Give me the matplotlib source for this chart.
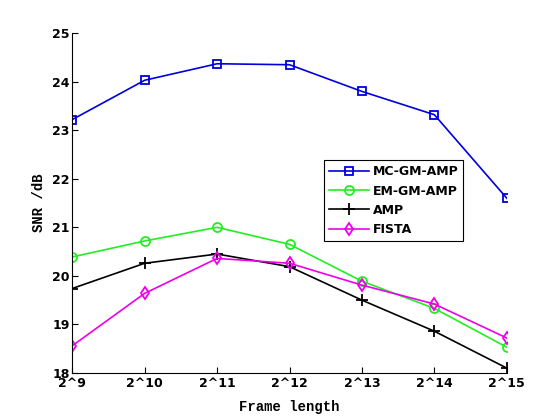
import matplotlib
matplotlib.use('Agg')
import matplotlib.pyplot as plt

# data
x_labels = ['2^9', '2^10', '2^11', '2^12', '2^13', '2^14', '2^15']
mc_gm_amp = [23.22, 24.03, 24.37, 24.35, 23.80, 23.32, 21.60]
em_gm_amp = [20.39, 20.72, 21.00, 20.65, 19.89, 19.33, 18.53]
amp = [19.74, 20.26, 20.45, 20.19, 19.50, 18.86, 18.10]
fista = [18.56, 19.64, 20.36, 20.26, 19.81, 19.42, 18.72]

x = list(range(len(x_labels)))

fig = plt.figure(figsize=(5.6, 4.2), dpi=100)
ax = fig.add_axes([0.129, 0.112, 0.776, 0.809])

ax.plot(x, mc_gm_amp, color='#0000dd', marker='s', markersize=5.5, markerfacecolor='none',
        markeredgewidth=1.3, linewidth=1.2, label='MC-GM-AMP')
ax.plot(x, em_gm_amp, color='#22ee22', marker='o', markersize=6.5, markerfacecolor='none',
        markeredgewidth=1.3, linewidth=1.2, label='EM-GM-AMP')
ax.plot(x, amp, color='black', marker='+', markersize=8, markeredgewidth=1.3,
        linewidth=1.2, label='AMP')
ax.plot(x, fista, color='#ee00ee', marker='d', markersize=6.5, markerfacecolor='none',
        markeredgewidth=1.3, linewidth=1.2, label='FISTA')

ax.set_xlim(0, 6)
ax.set_ylim(18, 25)
ax.set_xticks(x)
ax.set_xticklabels(x_labels)
ax.set_yticks(range(18, 26))

for s in ['top', 'right']:
    ax.spines[s].set_visible(False)
ax.tick_params(direction='in', length=4, labelsize=9)
ax.tick_params(axis='x', pad=3)
ax.tick_params(axis='y', pad=2)
for lab in ax.get_xticklabels() + ax.get_yticklabels():
    lab.set_fontweight('bold')

ax.set_xlabel('Frame length', family='Liberation Mono', fontweight='bold', fontsize=10, labelpad=7)
ax.set_ylabel('SNR /dB', family='Liberation Mono', fontweight='bold', fontsize=10, labelpad=4)

leg = ax.legend(loc='upper left', bbox_to_anchor=(0.579, 0.626), borderaxespad=0,
                fancybox=False, framealpha=1, edgecolor='black',
                prop={'weight': 'bold', 'size': 9}, handlelength=3.2,
                borderpad=0.4, labelspacing=0.5, handletextpad=0.3)
leg.get_frame().set_linewidth(0.8)

fig.savefig('out.png', dpi=100)
